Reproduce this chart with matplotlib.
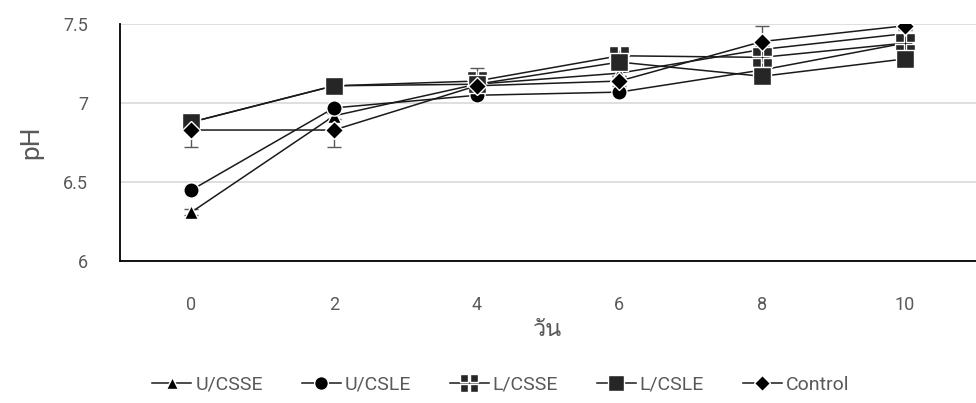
import numpy as np
import matplotlib
matplotlib.use("Agg")
import matplotlib.pyplot as plt
from matplotlib.path import Path
from matplotlib import font_manager
from matplotlib.ft2font import FT2Font

days = ['0', '2', '4', '6', '8', '10']
u_csse = [6.31, 6.92, 7.12, 7.19, 7.34, 7.44]
u_csle = [6.45, 6.97, 7.05, 7.07, 7.21, 7.38]
l_csse = [6.88, 7.11, 7.14, 7.30, 7.29, 7.38]
l_csle = [6.88, 7.11, 7.12, 7.26, 7.17, 7.28]
control = [6.83, 6.83, 7.11, 7.14, 7.39, 7.49]

err_u_csse = [0.02, 0.02, 0.02, 0.02, 0.02, 0.02]
err_u_csle = [0.02, 0.02, 0.02, 0.02, 0.02, 0.02]
err_l_csse = [0.02, 0.03, 0.08, 0.03, 0.03, 0.03]
err_l_csle = [0.02, 0.02, 0.02, 0.02, 0.02, 0.02]
err_control = [0.11, 0.11, 0.03, 0.03, 0.10, 0.02]

labels = ['U/CSSE', 'U/CSLE', 'L/CSSE', 'L/CSLE', 'Control']
x_title = 'วัน'


def thai_families():
    # look for any installed font that can draw the Thai x title
    need = [ord(c) for c in x_title]
    found = []
    for f in font_manager.fontManager.ttflist:
        try:
            cmap = FT2Font(f.fname).get_charmap()
        except Exception:
            continue
        if all(n in cmap for n in need) and f.name not in found:
            found.append(f.name)
    return found


thai = thai_families()
plt.rcParams['font.family'] = ['Roboto', 'DejaVu Sans'] + thai


def split_square(g=0.14):
    # square cut into four by a white cross
    rects = []
    for x0, x1 in [(-1, -g), (g, 1)]:
        for y0, y1 in [(-1, -g), (g, 1)]:
            rects.append(Path([(x0, y0), (x1, y0), (x1, y1), (x0, y1), (x0, y0)],
                              [Path.MOVETO, Path.LINETO, Path.LINETO, Path.LINETO, Path.CLOSEPOLY]))
    return Path.make_compound_path(*rects)


series = [
    (u_csse, err_u_csse, '^', 10, 'black'),
    (u_csle, err_u_csle, 'o', 11, 'black'),
    (l_csse, err_l_csse, split_square(), 14, '#262626'),
    (l_csle, err_l_csle, 's', 13, '#262626'),
    (control, err_control, 'D', 9, 'black'),
]

fig = plt.figure(figsize=(9.76, 4.03), dpi=100)
ax = fig.add_axes([0.123, 0.352, 0.877, 0.588])

x = np.arange(len(days))
grey = '#595959'
for (vals, err, mk, ms, col), lab in zip(series, labels):
    ax.errorbar(x, vals, yerr=err, fmt='none', ecolor=grey, elinewidth=1,
                capsize=5, capthick=1, zorder=2)
for (vals, err, mk, ms, col), lab in zip(series, labels):
    ax.plot(x, vals, color='#1a1a1a', lw=1.1, marker=mk, markersize=ms,
            markerfacecolor=col, markeredgecolor='white', markeredgewidth=1,
            label=lab, zorder=3)

ax.set_xlim(-0.5, 5.5)
ax.set_ylim(6, 7.5)
ax.set_yticks([6, 6.5, 7, 7.5])
ax.set_yticklabels(['6', '6.5', '7', '7.5'])
ax.set_xticks(x)
ax.set_xticklabels(days)
ax.yaxis.grid(True, color='#d9d9d9', lw=1.2)
ax.set_axisbelow(True)
for s in ['top', 'right']:
    ax.spines[s].set_visible(False)
ax.spines['left'].set_linewidth(1.3)
ax.spines['bottom'].set_linewidth(1.3)
ax.tick_params(axis='both', length=0, labelsize=13, labelcolor=grey)
ax.tick_params(axis='y', pad=23)
ax.tick_params(axis='x', pad=25)

ax.set_xlabel(x_title, fontsize=17, color=grey, labelpad=3)
ax.set_ylabel('pH', fontsize=19, color=grey, labelpad=14)

leg = fig.legend(loc='center', bbox_to_anchor=(0.513, 0.045), ncol=5, frameon=False,
                 fontsize=14, handlelength=2.0, columnspacing=2.0, handletextpad=0.2,
                 markerscale=0.9)
for t in leg.get_texts():
    t.set_color(grey)

fig.savefig('out.png', dpi=100)
